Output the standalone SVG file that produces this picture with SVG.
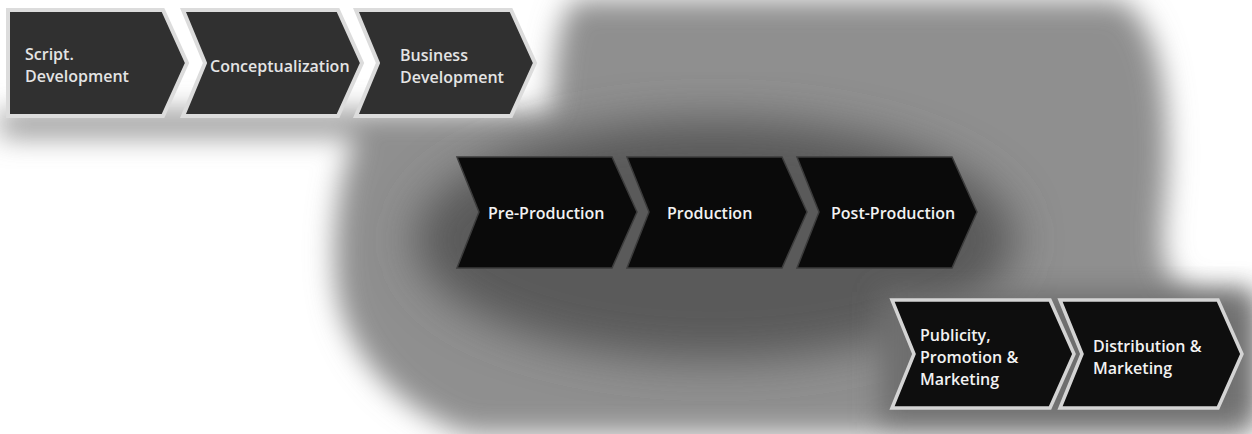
<svg xmlns="http://www.w3.org/2000/svg" width="1252" height="434" viewBox="0 0 1252 434">
  <defs>
    <filter id="soft" x="-20%" y="-20%" width="140%" height="140%">
      <feGaussianBlur stdDeviation="14"/>
    </filter>
    <filter id="soft2" x="-20%" y="-20%" width="140%" height="140%">
      <feGaussianBlur stdDeviation="22"/>
    </filter>
  </defs>
  <style>
    .chev-top { fill: #303030; stroke: #dcdcdc; stroke-width: 4; stroke-linejoin: miter; }
    .chev-mid { fill: #0a0a0a; stroke: #3c3c3c; stroke-width: 1.5; }
    .chev-bot { fill: #0e0e0e; stroke: #d4d4d4; stroke-width: 3.5; }
    .lbl { font-family: "Open Sans", "Liberation Sans", sans-serif; font-weight: 600; font-size: 16px; fill: #f2f2f2; }
    .lbl-top { fill: #e4e4e4; }
  </style>
  <rect width="1252" height="434" fill="#ffffff"/>
  <g id="background">
    <path d="M 0,112 L 550,112 C 556,60 556,20 575,0 L 1120,0 C 1165,25 1172,120 1165,200 C 1160,255 1160,285 1200,294 L 1252,294 L 1252,434 L 470,434 C 400,412 342,352 336,282 C 331,222 342,170 356,136 L 0,136 Z" fill="#8f8f8f" filter="url(#soft)"/>
    <ellipse cx="715" cy="240" rx="300" ry="120" fill="#5a5a5a" filter="url(#soft2)"/>
    <rect x="880" y="292" width="372" height="130" fill="#6e6e6e" filter="url(#soft)"/>
  </g>
  <g id="connectors"></g>
  <g id="node-script-development">
    <polygon class="chev-top" points="8,10 163,10 187,63 163,116 8,116"/>
    <text class="lbl lbl-top" x="25" y="60">Script.</text>
    <text class="lbl lbl-top" x="25" y="82">Development</text>
  </g>
  <g id="node-conceptualization">
    <polygon class="chev-top" points="183,10 338,10 362,63 338,116 183,116 205,63"/>
    <text class="lbl lbl-top" x="210" y="72">Conceptualization</text>
  </g>
  <g id="node-business-development">
    <polygon class="chev-top" points="356,10 511,10 535,63 511,116 356,116 378,63"/>
    <text class="lbl lbl-top" x="400" y="61">Business</text>
    <text class="lbl lbl-top" x="400" y="83">Development</text>
  </g>
  <g id="node-pre-production">
    <polygon class="chev-mid" points="457,157 612,157 637,212 612,268 457,268 479,212"/>
    <text class="lbl" x="488" y="219">Pre-Production</text>
  </g>
  <g id="node-production">
    <polygon class="chev-mid" points="627,157 782,157 807,212 782,268 627,268 649,212"/>
    <text class="lbl" x="667" y="219">Production</text>
  </g>
  <g id="node-post-production">
    <polygon class="chev-mid" points="797,157 952,157 977,212 952,268 797,268 819,212"/>
    <text class="lbl" x="831" y="219">Post-Production</text>
  </g>
  <g id="node-publicity">
    <polygon class="chev-bot" points="892,300 1050,300 1074,354 1050,408 892,408 914,354"/>
    <text class="lbl" x="920" y="341">Publicity,</text>
    <text class="lbl" x="920" y="363">Promotion &amp;</text>
    <text class="lbl" x="920" y="385">Marketing</text>
  </g>
  <g id="node-distribution">
    <polygon class="chev-bot" points="1060,300 1218,300 1242,354 1218,408 1060,408 1082,354"/>
    <text class="lbl" x="1093" y="352">Distribution &amp;</text>
    <text class="lbl" x="1093" y="374">Marketing</text>
  </g>
</svg>
